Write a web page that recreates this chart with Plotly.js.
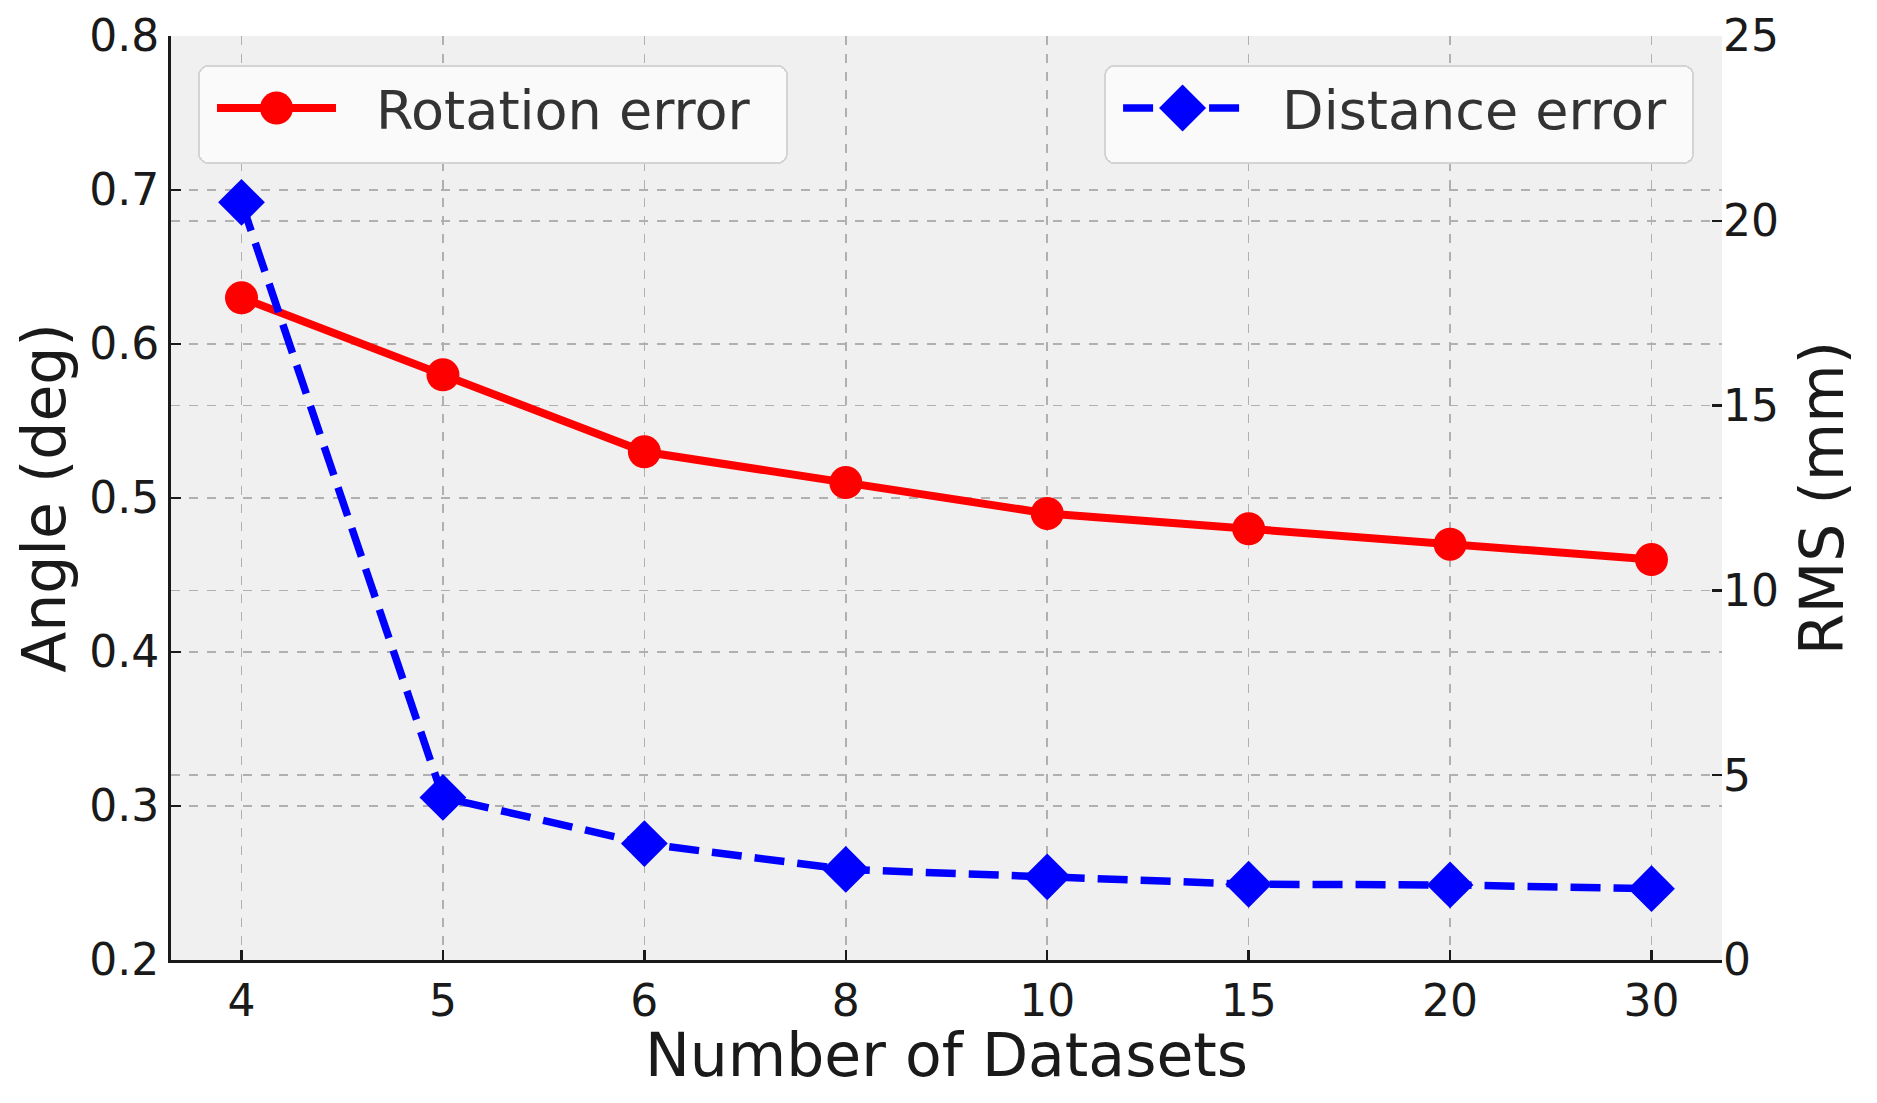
<!DOCTYPE html>
<html><head><meta charset="utf-8">
<script src="https://cdn.plot.ly/plotly-3.0.1.min.js"></script>
<style>html,body{margin:0;padding:0;background:#fff;} #chart{width:1877px;height:1103px;}</style>
</head><body><div id="chart"></div>
<script>
const datasets = ['4','5','6','8','10','15','20','30'];
const rotationError = [0.63, 0.58, 0.53, 0.51, 0.49, 0.48, 0.47, 0.46];
const distanceError = [20.5, 4.4, 3.15, 2.45, 2.25, 2.05, 2.03, 1.93];
const leftTicks = [0.2, 0.3, 0.4, 0.5, 0.6, 0.7, 0.8];
const rightTicks = [0, 5, 10, 15, 20, 25];

const FONT = 'DejaVu Sans, sans-serif';
const INK = '#1a1a1a';
const grid = {showgrid: true, gridcolor: '#b0b0b0', griddash: 'dash', gridwidth: 1.5, zeroline: false};

const traces = [
  {x: datasets, y: rotationError, name: 'Rotation error', type: 'scatter', mode: 'lines+markers',
   line: {color: '#ff0000', width: 8}, marker: {symbol: 'circle', size: 33, color: '#ff0000'},
   yaxis: 'y', legend: 'legend'},
  {x: datasets, y: distanceError, name: 'Distance error', type: 'scatter', mode: 'lines+markers',
   line: {color: '#0000ff', width: 7.5, dash: '30px,13px'}, marker: {symbol: 'diamond', size: 36, color: '#0000ff'},
   yaxis: 'y2', legend: 'legend2'}
];

const legendBase = {yanchor: 'top', y: 0.9686, bgcolor: '#fafafa', bordercolor: '#d4d4d4', borderwidth: 2,
  font: {family: FONT, size: 54, color: '#333333'}, itemwidth: 166};

const layout = {
  width: 1877, height: 1103,
  paper_bgcolor: '#ffffff', plot_bgcolor: '#f0f0f0',
  font: {family: FONT, color: INK},
  margin: {l: 171, r: 155, t: 36, b: 143, pad: 0},
  xaxis: Object.assign({type: 'category', range: [-0.35, 7.35], showline: true, linecolor: INK, linewidth: 3,
    ticks: 'inside', ticklen: 10, tickwidth: 2.5, tickcolor: INK, tickfont: {family: FONT, size: 44, color: INK},
    title: {text: 'Number of Datasets', font: {family: FONT, size: 60, color: INK}, standoff: 6}}, grid),
  yaxis: Object.assign({range: [0.2, 0.8], tickvals: leftTicks, tickformat: '.1f', showline: true, linecolor: INK, linewidth: 3,
    ticks: 'inside', ticklen: 10, tickwidth: 2.5, tickcolor: INK, tickfont: {family: FONT, size: 44, color: INK},
    title: {text: 'Angle (deg)', font: {family: FONT, size: 60, color: INK}, standoff: 5}}, grid),
  yaxis2: Object.assign({overlaying: 'y', side: 'right', range: [0, 25], tickvals: rightTicks, showline: false,
    ticks: 'inside', ticklen: 10, tickwidth: 2.5, tickcolor: INK, tickfont: {family: FONT, size: 44, color: INK},
    title: {text: 'RMS (mm)', font: {family: FONT, size: 60, color: INK}, standoff: 22}}, grid),
  legend: Object.assign({x: 0.0174, xanchor: 'left'}, legendBase),
  legend2: Object.assign({x: 0.982, xanchor: 'right'}, legendBase),
  showlegend: true
};

function parseT(el) {
  const t = el.getAttribute('transform') || '';
  const m = /translate\(\s*([-\d.e]+)[ ,]+([-\d.e]+)\s*\)/.exec(t);
  return m ? [parseFloat(m[1]), parseFloat(m[2])] : [0, 0];
}

function styleLegends(gd) {
  const TARGET_W = 588, TARGET_H = 97;
  const legends = gd.querySelectorAll('g.legend, g.legend2');
  legends.forEach(function (leg) {
    const bg = leg.querySelector('rect.bg');
    if (!bg) return;
    const isRight = leg.classList.contains('legend2');
    const w = parseFloat(bg.getAttribute('width')), h = parseFloat(bg.getAttribute('height'));
    const dw = TARGET_W - w, dh = TARGET_H - h;
    bg.setAttribute('width', w + dw);
    bg.setAttribute('height', h + dh);
    bg.setAttribute('rx', 9); bg.setAttribute('ry', 9);
    const [tx, ty] = parseT(leg);
    leg.setAttribute('transform', 'translate(' + (isRight ? tx - dw : tx) + ',' + ty + ')');
    const sb = leg.querySelector('g.scrollbox');
    if (sb) {
      const [sx, sy] = parseT(sb);
      sb.setAttribute('transform', 'translate(' + sx + ',' + (sy + dh / 2 - 6) + ')');
      sb.removeAttribute('clip-path');
    }
    const line = leg.querySelector('.legendlines path');
    if (line) line.setAttribute('d', 'M17,0h119');
    const pt = leg.querySelector('.legendpoints path');
    if (pt) {
      if (isRight) pt.setAttribute('d', 'M23.5,0L0,23.5L-23.5,0L0,-23.5Z');
      else pt.setAttribute('d', 'M16.5,0A16.5,16.5 0 1,1 0,-16.5A16.5,16.5 0 0,1 16.5,0Z');
      pt.setAttribute('transform', 'translate(76.5,0)');
    }
  });
  const xt = gd.querySelector('g.g-xtitle');
  if (xt) {
    const [ax, ay] = parseT(xt);
    xt.setAttribute('transform', 'translate(' + ax + ',' + (ay - 6) + ')');
  }
}

Plotly.newPlot('chart', traces, layout, {staticPlot: true, displayModeBar: false}).then(styleLegends);
</script></body></html>
